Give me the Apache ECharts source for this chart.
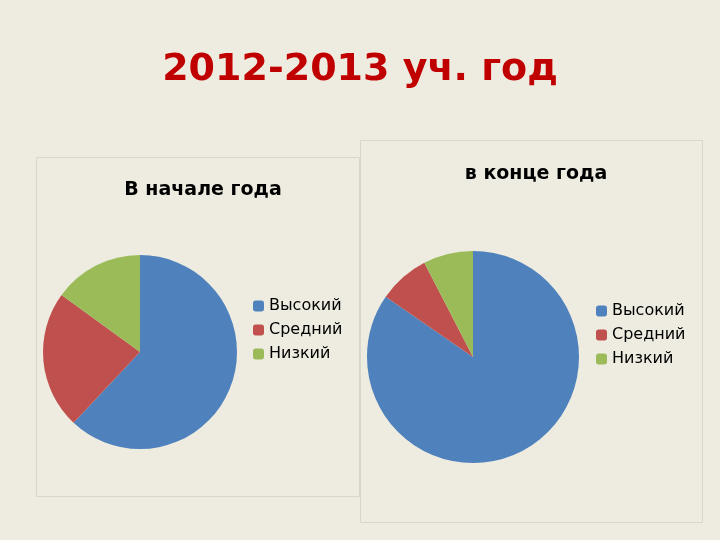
<!DOCTYPE html><html><head><meta charset="utf-8"><script src="https://cdn.jsdelivr.net/npm/echarts@6/dist/echarts.min.js"></script>
<style>html,body{margin:0;background:#EEECE1}#c{width:720px;height:540px}</style></head><body><div id="c"></div><script>
const categories=['Высокий','Средний','Низкий'];
const startValues=[62,23,15];
const endValues=[84.6,7.8,7.6];
const colors=['#4F81BD','#C0504D','#9BBB59'];
const ch=echarts.init(document.getElementById('c'));
const f='DejaVu Sans';
const mk=v=>v.map((x,i)=>({name:categories[i],value:x}));
ch.setOption({
backgroundColor:'#EEECE1',color:colors,animation:false,
title:[{text:'2012-2013 уч. год',left:'center',top:46,textStyle:{color:'#C00000',fontSize:38,fontWeight:'bold',fontFamily:f}},
{text:'В начале года',left:198,textAlign:'center',top:176,textStyle:{fontSize:19,fontWeight:'bold',fontFamily:f,color:'#000'}},
{text:'в конце года',left:531,textAlign:'center',top:160,textStyle:{fontSize:19,fontWeight:'bold',fontFamily:f,color:'#000'}}],
graphic:[{type:'rect',shape:{x:36.5,y:157.5,width:323,height:339},style:{fill:'none',stroke:'#D9D7CC'},z:-1},
{type:'rect',shape:{x:360.5,y:140.5,width:342,height:382},style:{fill:'none',stroke:'#D9D7CC'},z:-1}],
legend:[{left:248,top:293,orient:'vertical',itemWidth:11,itemHeight:11,itemGap:8,textStyle:{fontSize:16,fontFamily:f,color:'#000'},data:categories},
{left:591,top:298,orient:'vertical',itemWidth:11,itemHeight:11,itemGap:8,textStyle:{fontSize:16,fontFamily:f,color:'#000'},data:categories}],
series:[{type:'pie',center:[140,352],radius:97,label:{show:false},data:mk(startValues)},
{type:'pie',center:[473,357],radius:106,label:{show:false},data:mk(endValues)}]
});
</script></body></html>
